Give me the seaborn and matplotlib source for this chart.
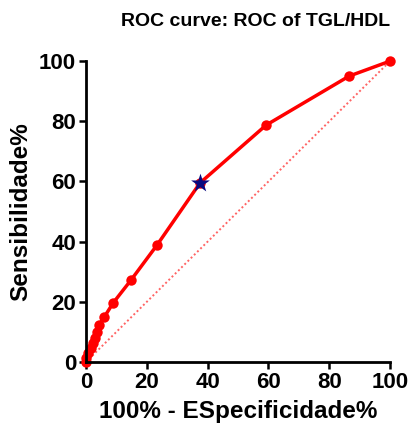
import matplotlib
matplotlib.use("Agg")
import matplotlib.pyplot as plt
import seaborn as sns
import pandas as pd

# ROC points (100% - specificity, sensitivity)
fpr = [0, 0.2, 0.8, 1.6, 2.4, 3.0, 3.5, 4.3, 6.0, 9.0, 14.8, 23.4, 37.5, 59.2, 86.5, 100]
tpr = [0, 1.3, 3.0, 4.7, 6.3, 8.0, 10.1, 12.3, 14.9, 19.7, 27.2, 38.9, 59.5, 78.7, 95.0, 100]
cutoff_fpr = [37.5]
cutoff_tpr = [59.5]
ref_line = [0, 100]
ticks = [0, 20, 40, 60, 80, 100]

sns.set_style("ticks")
plt.rcParams['font.family'] = ['Liberation Sans', 'DejaVu Sans']
plt.rcParams['font.weight'] = 'bold'
for key in ['text.color', 'axes.labelcolor', 'xtick.color', 'ytick.color']:
    plt.rcParams[key] = 'black'

df = pd.DataFrame({'fpr': fpr, 'tpr': tpr})

fig = plt.figure(figsize=(4.09, 4.3), dpi=100)
ax = fig.add_axes([0.210, 0.158, 0.744, 0.700])

# chance diagonal
ax.plot(ref_line, ref_line, color='#ff3030', linestyle=(0, (1, 1.3)), linewidth=1.4, alpha=0.75)

sns.lineplot(data=df, x='fpr', y='tpr', sort=False, color='#ff0000', linewidth=2.5,
             marker='o', markersize=7.5, markeredgewidth=0, ax=ax, clip_on=False)
sns.scatterplot(x=cutoff_fpr, y=cutoff_tpr, marker='*', s=200, color='#0a0a80',
                edgecolor='#0a0a80', linewidth=0, zorder=5, ax=ax)

ax.set_xlim(0, 100)
ax.set_ylim(0, 100)
ax.set_xticks(ticks)
ax.set_yticks(ticks)
ax.tick_params(axis='both', labelsize=16, width=1.8, length=5, color='black', pad=2)
for lab in ax.get_xticklabels() + ax.get_yticklabels():
    lab.set_fontweight('bold')
for s in ['left', 'bottom']:
    ax.spines[s].set_linewidth(2.0)
    ax.spines[s].set_color('black')
sns.despine(ax=ax)

ax.set_xlabel('100% - ESpecificidade%', fontsize=17.5, fontweight='bold', labelpad=5)
ax.set_ylabel('Sensibilidade%', fontsize=17.5, fontweight='bold', labelpad=5)
ax.set_title('ROC curve: ROC of TGL/HDL', fontsize=14, fontweight='bold', loc='right', pad=25)

fig.savefig('out.png', dpi=100)
